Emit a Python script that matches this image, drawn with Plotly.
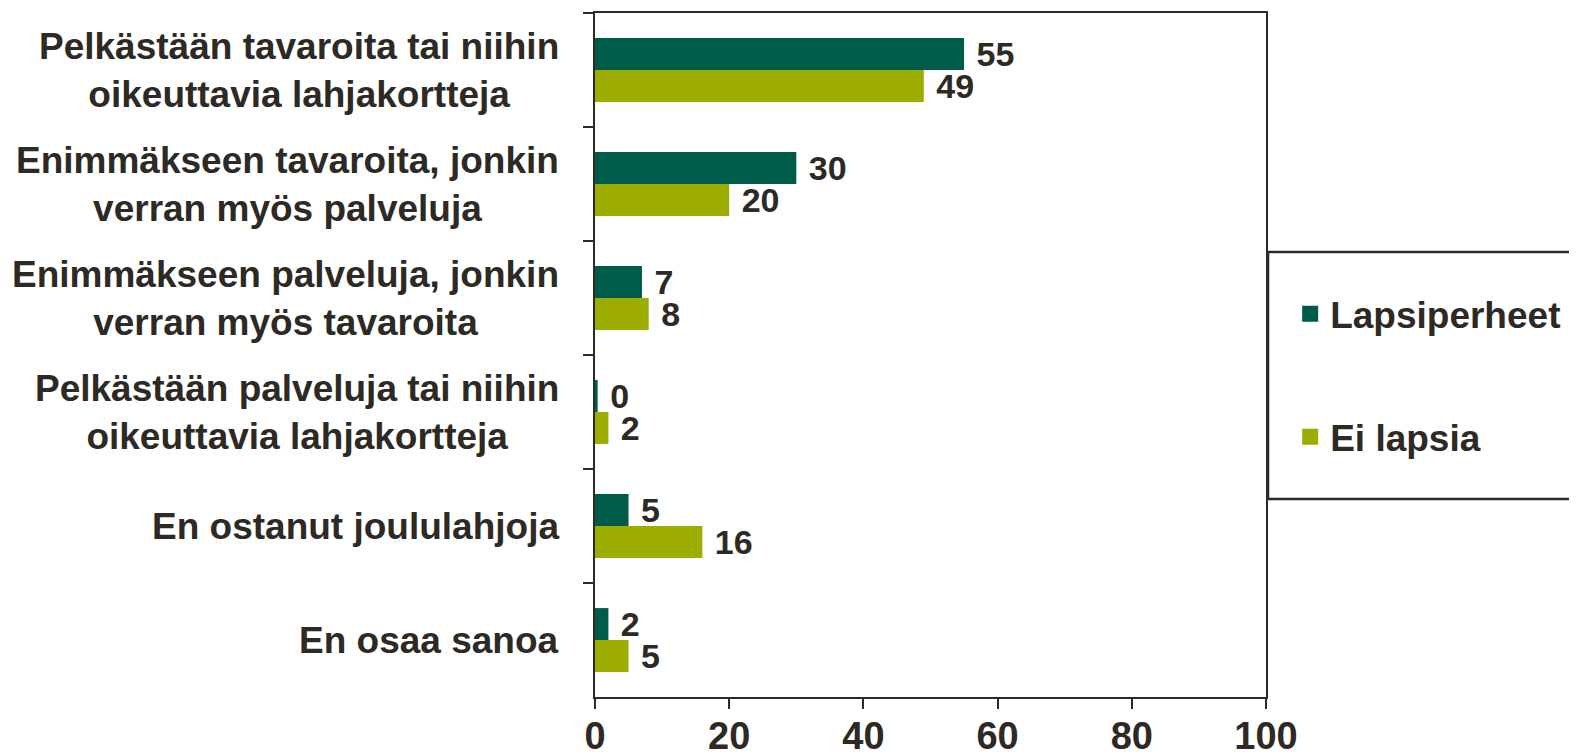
import plotly.graph_objects as go

# ---------- DATA ----------
categories = [
    "Pelkästään tavaroita tai niihin<br>oikeuttavia lahjakortteja",
    "Enimmäkseen tavaroita, jonkin<br>verran myös palveluja",
    "Enimmäkseen palveluja, jonkin<br>verran myös tavaroita",
    "Pelkästään palveluja tai niihin<br>oikeuttavia lahjakortteja",
    "En ostanut joululahjoja",
    "En osaa sanoa",
]
lapsiperheet = [55, 30, 7, 0.4, 5, 2]
ei_lapsia = [49, 20, 8, 2, 16, 5]
series_names = ["Lapsiperheet", "Ei lapsia"]
x_ticks = [0, 20, 40, 60, 80, 100]

DARK = "#005c4a"
OLIVE = "#9cad00"
INK = "#2d2a25"
FONT = "Liberation Sans, Arial, sans-serif"

fig = go.Figure()

for name, vals, col in [(series_names[0], lapsiperheet, DARK),
                        (series_names[1], ei_lapsia, OLIVE)]:
    fig.add_trace(go.Bar(
        y=categories, x=vals, orientation="h", name=name,
        marker=dict(color=col, line=dict(width=0)),
        text=["\u00a0" + str(round(v)) for v in vals],
        textposition="outside", constraintext="none", cliponaxis=False,
        textfont=dict(family=FONT, size=34, color=INK, weight="bold"),
        showlegend=False, hoverinfo="skip",
    ))
    # legend entry with a bigger square swatch
    fig.add_trace(go.Scatter(
        x=[None], y=[None], mode="markers", name=name, legendgroup=name,
        marker=dict(symbol="square", size=20, color=col),
    ))

# category labels: block right-aligned, lines centred
for c in categories:
    fig.add_annotation(
        x=0, xref="paper", y=c, yref="y", text=c, showarrow=False,
        xanchor="right", align="center", xshift=-34,
        font=dict(family=FONT, size=37, color=INK, weight="bold"),
    )

# legend frame that runs off the right edge
fig.add_shape(type="rect", xref="paper", yref="paper",
              x0=1.003, x1=1.6, y0=(697 - 499) / 684, y1=(697 - 252) / 684,
              line=dict(color=INK, width=2.5), fillcolor="rgba(0,0,0,0)")

# page body has an 8px margin, so margins are trimmed by 8 on left/top
fig.update_layout(
    width=1577, height=755,
    margin=dict(l=587, r=319, t=5, b=66, autoexpand=False),
    plot_bgcolor="white", paper_bgcolor="white",
    barmode="group", bargap=0.44, bargroupgap=0,
    font=dict(family=FONT, color=INK),
    legend=dict(
        x=1.036, y=0.605, xanchor="left", yanchor="top",
        font=dict(family=FONT, size=37, color=INK, weight="bold"),
        traceorder="grouped", tracegroupgap=72,
        bgcolor="rgba(0,0,0,0)", borderwidth=0, itemwidth=30,
    ),
)

fig.update_xaxes(
    range=[0, 100], tickvals=x_ticks, showgrid=False, zeroline=False,
    showline=True, linecolor=INK, linewidth=2, mirror=True,
    ticks="outside", ticklen=10, tickwidth=2, tickcolor=INK,
    tickfont=dict(family=FONT, size=38, color=INK, weight="bold"),
    ticklabelstandoff=-6, automargin=False,
)
fig.update_yaxes(
    autorange="reversed", showticklabels=False, showgrid=False,
    showline=True, linecolor=INK, linewidth=2, mirror=True,
    ticks="outside", ticklen=10, tickwidth=2, tickcolor=INK,
    tickson="boundaries", automargin=False,
)

fig.write_html("out.html")
